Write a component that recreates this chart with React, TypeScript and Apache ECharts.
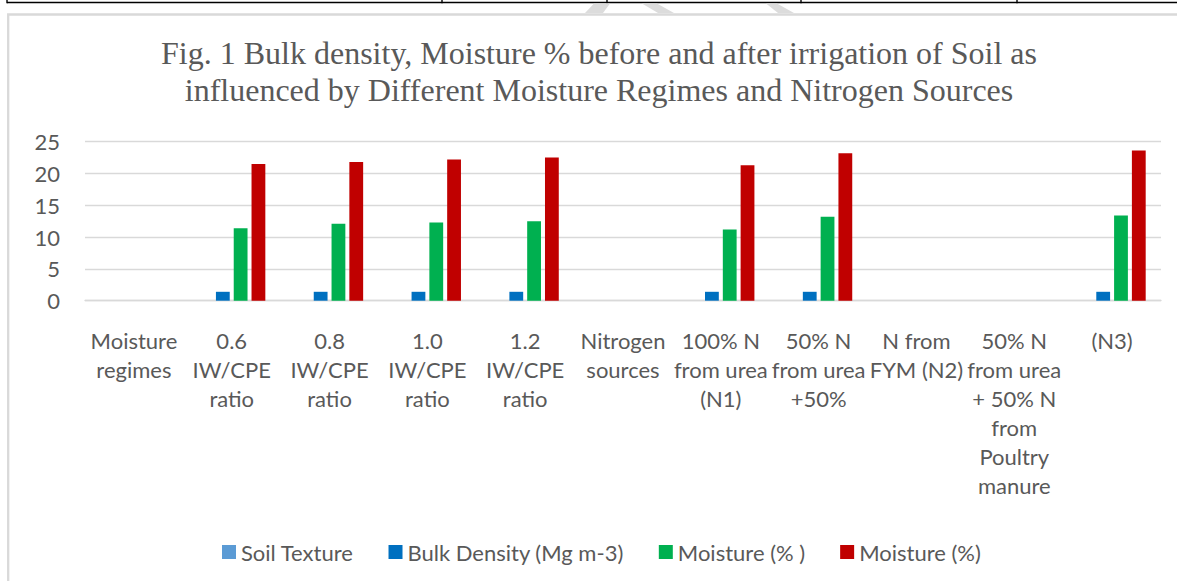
import React, { useEffect, useRef } from "react";
import * as echarts from "echarts";

const categories = [
  "Moisture\nregimes",
  "0.6\nIW/CPE\nratio",
  "0.8\nIW/CPE\nratio",
  "1.0\nIW/CPE\nratio",
  "1.2\nIW/CPE\nratio",
  "Nitrogen\nsources",
  "100% N\nfrom urea\n(N1)",
  "50% N\nfrom urea\n+50%",
  "N from\nFYM (N2)",
  "50% N\nfrom urea\n+ 50% N\nfrom\nPoultry\nmanure",
  "(N3)",
];

const soilTexture: (number | null)[] = [null, null, null, null, null, null, null, null, null, null, null];
const bulkDensity: (number | null)[] = [null, 1.4, 1.4, 1.4, 1.4, null, 1.4, 1.4, null, null, 1.4];
const moistureBefore: (number | null)[] = [null, 11.4, 12.1, 12.3, 12.5, null, 11.2, 13.2, null, null, 13.4];
const moistureAfter: (number | null)[] = [null, 21.5, 21.8, 22.2, 22.5, null, 21.3, 23.2, null, null, 23.6];

const seriesNames = ["Soil Texture", "Bulk Density (Mg m-3)", "Moisture (% )", "Moisture (%)"];
const seriesColors = ["#5B9BD5", "#0070C0", "#00B050", "#C00000"];

const titleText =
  "Fig. 1 Bulk density, Moisture % before and after irrigation of Soil as\ninfluenced by Different Moisture Regimes and Nitrogen Sources";

const LABEL_FONT = "Lato, 'Open Sans', sans-serif";
const TEXT_COLOR = "#595959";

export default function App() {
  const ref = useRef<HTMLDivElement>(null);

  useEffect(() => {
    if (!ref.current) return;
    const chart = echarts.init(ref.current, undefined, { renderer: "svg" });
    const dataSets = [soilTexture, bulkDensity, moistureBefore, moistureAfter];

    const tableVerticals = [7, 442, 607, 801, 1017];

    chart.setOption({
      animation: false,
      backgroundColor: "#ffffff",
      grid: { left: 85, right: 16, top: 141.7, bottom: 280.3, containLabel: false },
      legend: {
        left: 217,
        top: 536,
        icon: "rect",
        itemWidth: 14,
        itemHeight: 14,
        itemGap: 35,
        textStyle: { fontFamily: LABEL_FONT, fontSize: 22, color: TEXT_COLOR },
        data: seriesNames,
      },
      xAxis: {
        type: "category",
        data: categories,
        axisLine: { show: true, lineStyle: { color: "#d9d9d9", width: 1.3 } },
        axisTick: { show: false },
        axisLabel: {
          interval: 0,
          margin: 25,
          fontFamily: LABEL_FONT,
          fontSize: 22,
          lineHeight: 29,
          color: TEXT_COLOR,
          align: "center",
          verticalAlign: "top",
        },
      },
      yAxis: {
        type: "value",
        min: 0,
        max: 25,
        interval: 5,
        axisLine: { show: false },
        axisTick: { show: false },
        splitLine: { lineStyle: { color: "#d9d9d9", width: 1.3 } },
        axisLabel: { margin: 25, fontFamily: LABEL_FONT, fontSize: 22, color: TEXT_COLOR },
      },
      series: seriesNames.map((name, i) => ({
        name,
        type: "bar",
        data: dataSets[i],
        barWidth: 13.8,
        barGap: "29%",
        itemStyle: { color: seriesColors[i] },
      })),
      graphic: [
        {
          type: "rect",
          silent: true,
          z: -1,
          shape: { x: 8.2, y: 14.5, width: 1200, height: 600 },
          style: { fill: "none", stroke: "#d9d9d9", lineWidth: 2.3 },
        },
        {
          type: "line",
          silent: true,
          shape: { x1: 7, y1: 2.5, x2: 1177, y2: 2.5 },
          style: { stroke: "#000000", lineWidth: 1.6 },
        },
        ...tableVerticals.map((x) => ({
          type: "line",
          silent: true,
          shape: { x1: x, y1: 0, x2: x, y2: 3.3 },
          style: { stroke: "#000000", lineWidth: 1.4 },
        })),
        {
          type: "polygon",
          silent: true,
          shape: { points: [[585, 13], [603, 13], [610, 3.6], [594, 3.6]] },
          style: { fill: "#dcdcdc" },
        },
        {
          type: "polygon",
          silent: true,
          shape: { points: [[642, 3.6], [657, 3.6], [674, 13], [658, 13]] },
          style: { fill: "#dcdcdc" },
        },
        {
          type: "polygon",
          silent: true,
          shape: { points: [[766, 3.6], [777, 3.6], [794, 13], [778, 13]] },
          style: { fill: "#dcdcdc" },
        },
        {
          type: "text",
          silent: true,
          x: 599,
          y: 71.5,
          style: {
            text: titleText,
            font: "32px 'Liberation Serif', 'Times New Roman', serif",
            fill: TEXT_COLOR,
            align: "center",
            verticalAlign: "middle",
            lineHeight: 37,
          },
        },
      ],
    });

    return () => chart.dispose();
  }, []);

  return (
    <div
      ref={ref}
      style={{ position: "fixed", left: 0, top: 0, width: 1177, height: 581, background: "#fff" }}
    />
  );
}
